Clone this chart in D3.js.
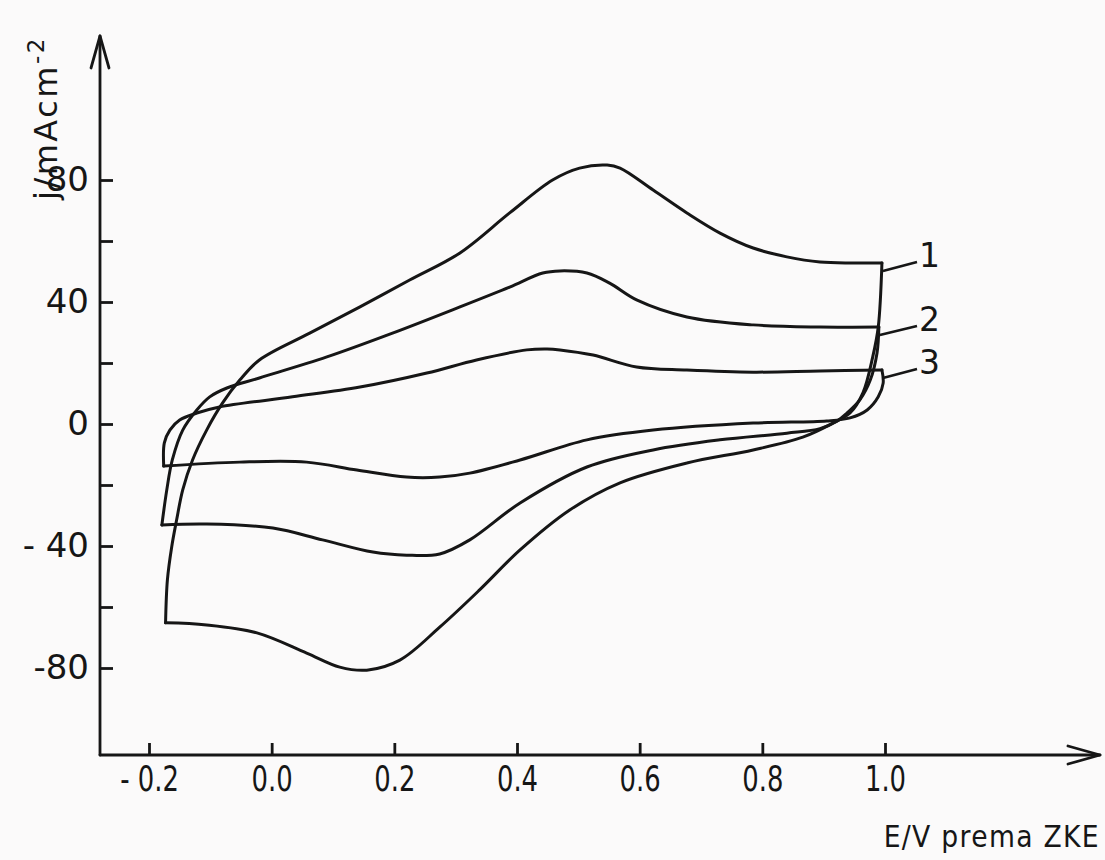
<!DOCTYPE html>
<html>
<head>
<meta charset="utf-8">
<script src="https://cdn.jsdelivr.net/npm/d3@7"></script>
<style>
  html, body { margin: 0; padding: 0; background: #fbfafa; }
  svg { display: block; }
  text { fill: #161616; font-family: "DejaVu Sans", "Noto Sans", sans-serif; }
</style>
</head>
<body>
<svg id="chart" width="1105" height="860"></svg>
<script>
// Potential ticks (V) and their printed labels
const E_TICKS = [-0.2, 0.0, 0.2, 0.4, 0.6, 0.8, 1.0];
const E_LABELS = ["- 0.2", "0.0", "0.2", "0.4", "0.6", "0.8", "1.0"];
// Current density ticks (mA cm^-2); only every second one carries a label
const J_TICKS = [-80, -60, -40, -20, 0, 20, 40, 60, 80];
const J_LABELS = {"-80": "-80", "-40": "- 40", "0": "0", "40": "40", "80": "80"};

// Cyclic voltammograms [E / V, j / mA cm^-2]
// forward (anodic) sweep from the lower-left corner to the upper-right corner
const loop1Anodic = [[-0.173,-65.2],[-0.170,-51.1],[-0.163,-40.3],[-0.155,-31.5],[-0.145,-21.6],[-0.129,-11.8],[-0.106,-2.0],[-0.080,6.9],[-0.052,14.4],[-0.020,21.0],[0.062,29.8],[0.144,38.4],[0.225,47.2],[0.307,56.1],[0.388,69.2],[0.458,80.0],[0.502,83.9],[0.547,84.9],[0.568,83.9],[0.622,76.7],[0.677,69.2],[0.731,62.6],[0.785,57.7],[0.840,54.8],[0.894,53.1],[0.948,52.8],[0.995,52.8]];
// reverse (cathodic) sweep back to the lower-left corner
const loop1Cathodic = [[0.995,52.8],[0.989,31.8],[0.980,22.0],[0.964,10.2],[0.943,3.6],[0.915,0.3],[0.866,-4.3],[0.785,-8.5],[0.677,-12.8],[0.568,-19.3],[0.486,-28.2],[0.405,-41.3],[0.339,-54.4],[0.274,-66.6],[0.209,-77.4],[0.155,-80.7],[0.111,-79.7],[0.057,-75.1],[-0.024,-68.5],[-0.106,-65.9],[-0.173,-65.2]];

const loop2Anodic = [[-0.179,-33.1],[-0.171,-21.6],[-0.162,-11.8],[-0.145,-2.0],[-0.122,4.6],[-0.101,8.9],[-0.073,11.8],[-0.020,15.1],[0.090,22.0],[0.197,29.8],[0.307,38.4],[0.388,44.9],[0.442,49.5],[0.470,50.2],[0.514,49.5],[0.551,46.2],[0.595,40.7],[0.677,35.1],[0.785,32.5],[0.894,31.8],[0.990,31.8]];
const loop2Cathodic = [[0.990,31.8],[0.987,23.3],[0.976,14.4],[0.959,7.9],[0.938,3.6],[0.922,1.0],[0.894,-1.5],[0.840,-3.0],[0.731,-5.2],[0.622,-8.5],[0.514,-14.1],[0.405,-25.9],[0.323,-38.0],[0.274,-42.6],[0.220,-43.0],[0.165,-42.0],[0.083,-38.0],[0.002,-34.1],[-0.106,-32.8],[-0.179,-33.1]];

const loop3Anodic = [[-0.176,-13.8],[-0.175,-6.2],[-0.166,-2.0],[-0.150,1.3],[-0.122,3.6],[-0.085,5.6],[0.034,8.9],[0.144,12.1],[0.253,16.7],[0.334,21.0],[0.416,24.3],[0.449,24.6],[0.470,24.3],[0.524,22.6],[0.595,18.7],[0.677,17.7],[0.785,17.0],[0.894,17.4],[0.995,17.7]];
const loop3Cathodic = [[0.995,17.7],[0.997,13.4],[0.989,8.9],[0.971,4.6],[0.943,2.0],[0.905,1.0],[0.785,0.3],[0.622,-2.0],[0.514,-5.2],[0.405,-11.8],[0.323,-16.1],[0.274,-17.4],[0.220,-17.4],[0.139,-15.1],[0.057,-12.5],[-0.052,-12.5],[-0.176,-13.8]];

const loops = [
  {name: "1", anodic: loop1Anodic, cathodic: loop1Cathodic},
  {name: "2", anodic: loop2Anodic, cathodic: loop2Cathodic},
  {name: "3", anodic: loop3Anodic, cathodic: loop3Cathodic}
];

const svg = d3.select("#chart");
const ink = "#161616";

const x = d3.scaleLinear().domain([-0.2, 1.0]).range([149, 885]);
const y = d3.scaleLinear().domain([-80, 80]).range([668, 180]);

const axisX = 100;   // pixel position of the vertical axis
const axisY = 755;   // pixel position of the horizontal axis

// Axes: ticks point into the plot
const gx = svg.append("g").attr("transform", `translate(0,${axisY})`)
  .call(d3.axisBottom(x).tickValues(E_TICKS).tickSize(-12).tickPadding(11)
    .tickFormat((d, i) => E_LABELS[i]));
gx.select(".domain").remove();
gx.selectAll(".tick line").attr("stroke", ink).attr("stroke-width", 2.8);
gx.selectAll(".tick text")
  .attr("fill", ink)
  .style("font-size", "35px")
  .attr("transform", "scale(0.74,1)");

const gy = svg.append("g").attr("transform", `translate(${axisX},0)`)
  .call(d3.axisLeft(y).tickValues(J_TICKS).tickSize(-13).tickPadding(11)
    .tickFormat(d => J_LABELS[String(d)] || ""));
gy.select(".domain").remove();
gy.selectAll(".tick line").attr("stroke", ink).attr("stroke-width", 2.8);
gy.selectAll(".tick text")
  .attr("fill", ink)
  .style("font-size", "34px");

// Axis lines with open arrowheads
const axes = svg.append("g").attr("fill", "none").attr("stroke", ink)
  .attr("stroke-width", 2.8).attr("stroke-linecap", "round").attr("stroke-linejoin", "round");
axes.append("path").attr("d", `M${axisX},${axisY} V36`);
axes.append("path").attr("d", `M${axisX - 9},68 L${axisX},36 L${axisX + 9},68`);
axes.append("path").attr("d", `M${axisX},${axisY} H1100`);
axes.append("path").attr("d", `M1068,${axisY - 9} L1100,${axisY} L1068,${axisY + 9}`);

// Axis titles
const yTitle = svg.append("text")
  .attr("transform", "translate(57,200) rotate(-90)")
  .style("font-size", "32px").style("letter-spacing", "2.5px");
yTitle.append("tspan").text("j/mAcm");
yTitle.append("tspan").attr("dy", -13).style("font-size", "23px").text("-2");

svg.append("text")
  .attr("transform", "translate(1100,847) scale(0.86,1)")
  .attr("text-anchor", "end")
  .style("font-size", "31px").style("letter-spacing", "1.5px")
  .text("E/V prema ZKE");

// Voltammogram loops
const line = d3.line().x(d => x(d[0])).y(d => y(d[1])).curve(d3.curveCatmullRom.alpha(0.5));
const curves = svg.append("g").attr("fill", "none").attr("stroke", ink)
  .attr("stroke-width", 3).attr("stroke-linecap", "round").attr("stroke-linejoin", "round");
loops.forEach(l => {
  curves.append("path").attr("d", line(l.anodic));
  curves.append("path").attr("d", line(l.cathodic));
});

// Leader lines and curve numbers at the right end of each loop
const leaders = svg.append("g");
loops.forEach(l => {
  const corner = l.anodic[l.anodic.length - 1];
  const x0 = x(corner[0]) + 1, y0 = y(corner[1]) + 8;
  const x1 = x(1.0) + 32, y1 = y0 - 9;
  leaders.append("path").attr("d", `M${x0},${y0} L${x1},${y1}`)
    .attr("stroke", ink).attr("stroke-width", 2.6).attr("fill", "none");
  leaders.append("text").attr("x", x1 + 2).attr("y", y1 + 5)
    .style("font-size", "33px")
    .text(l.name);
});
</script>
</body>
</html>
